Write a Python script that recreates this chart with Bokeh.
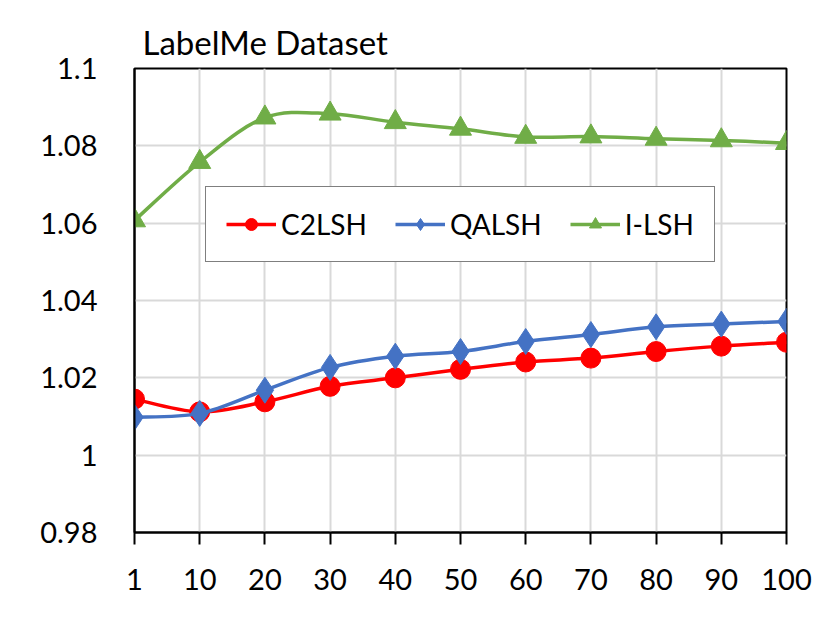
from bokeh.plotting import figure
from bokeh.models import (FixedTicker, CustomJSTickFormatter, Legend, LegendItem,
                          ColumnDataSource, Title)
from bokeh.embed import file_html
from bokeh.resources import INLINE

categories = ["1", "10", "20", "30", "40", "50", "60", "70", "80", "90", "100"]
c2lsh = [1.0145, 1.0112, 1.0138, 1.0178, 1.0200, 1.0222, 1.0241, 1.0251, 1.0268, 1.0282, 1.0292]
qalsh = [1.0098, 1.0108, 1.0168, 1.0227, 1.0256, 1.0268, 1.0294, 1.0312, 1.0332, 1.0339, 1.0346]
ilsh = [1.0607, 1.0758, 1.0873, 1.0883, 1.0861, 1.0844, 1.0823, 1.0824, 1.0818, 1.0814, 1.0807]
y_ticks = [0.98, 1.0, 1.02, 1.04, 1.06, 1.08, 1.1]

FONT = "Lato"
xs = list(range(len(categories)))

p = figure(width=815, height=615, output_backend="svg", toolbar_location=None,
           x_range=(0, len(categories) - 1), y_range=(y_ticks[0], y_ticks[-1]),
           min_border_left=134, min_border_right=29, min_border_bottom=83, min_border_top=68)

p.title = Title(text="LabelMe Dataset", text_font=FONT, text_font_size="33px",
                text_font_style="normal", text_color="black", align="left", offset=8,
                standoff=14)

p.outline_line_color = "black"
p.outline_line_width = 2
p.background_fill_color = "white"
p.border_fill_color = "white"

p.xgrid.grid_line_color = "#d9d9d9"
p.ygrid.grid_line_color = "#d9d9d9"
p.xgrid.grid_line_width = 2
p.ygrid.grid_line_width = 2

p.xaxis.ticker = FixedTicker(ticks=xs)
p.xaxis.major_label_overrides = {i: c for i, c in enumerate(categories)}
p.xaxis.axis_line_color = "black"
p.xaxis.axis_line_width = 2
p.xaxis.major_tick_line_color = "black"
p.xaxis.major_tick_line_width = 2
p.xaxis.major_tick_out = 12
p.xaxis.major_tick_in = 0
p.xaxis.minor_tick_line_color = None
p.xaxis.major_label_text_font = FONT
p.xaxis.major_label_text_font_size = "29px"
p.xaxis.major_label_text_color = "black"
p.xaxis.major_label_standoff = 24

p.yaxis.ticker = FixedTicker(ticks=y_ticks)
p.yaxis.formatter = CustomJSTickFormatter(code="return String(Math.round(tick*100)/100);")
p.yaxis.axis_line_color = "black"
p.yaxis.axis_line_width = 2
p.yaxis.major_tick_line_color = None
p.yaxis.minor_tick_line_color = None
p.yaxis.major_label_text_font = FONT
p.yaxis.major_label_text_font_size = "29px"
p.yaxis.major_label_text_color = "black"
p.yaxis.major_label_standoff = 31


def smooth_source(x, y):
    # Bezier segments through the data points (Catmull-Rom style, like Excel smoothing)
    n = len(x)
    d = dict(x0=[], y0=[], x1=[], y1=[], cx0=[], cy0=[], cx1=[], cy1=[])
    for i in range(n - 1):
        a = max(i - 1, 0)
        b = min(i + 2, n - 1)
        d["x0"].append(x[i]); d["y0"].append(y[i])
        d["x1"].append(x[i + 1]); d["y1"].append(y[i + 1])
        d["cx0"].append(x[i] + (x[i + 1] - x[a]) / 6)
        d["cy0"].append(y[i] + (y[i + 1] - y[a]) / 6)
        d["cx1"].append(x[i + 1] - (x[b] - x[i]) / 6)
        d["cy1"].append(y[i + 1] - (y[b] - y[i]) / 6)
    return ColumnDataSource(d)


series = [
    ("C2LSH", c2lsh, "#FF0000", "circle", 20),
    ("QALSH", qalsh, "#4472C4", "diamond", 26),
    ("I-LSH", ilsh, "#70AD47", "triangle", 22),
]

items = []
for name, vals, color, marker, size in series:
    src = smooth_source(xs, vals)
    br = p.bezier(x0="x0", y0="y0", x1="x1", y1="y1", cx0="cx0", cy0="cy0",
                  cx1="cx1", cy1="cy1", source=src, line_color=color, line_width=3.5)
    sr = p.scatter(xs, vals, marker=marker, size=size, fill_color=color,
                   line_color=color, line_width=1)
    items.append(LegendItem(label=name, renderers=[br, sr]))

legend = Legend(items=items, orientation="horizontal", location=(71, 270),
                border_line_color="black", border_line_width=1.5,
                background_fill_color="white", background_fill_alpha=1,
                label_text_font=FONT, label_text_font_size="28px", label_text_color="black",
                glyph_width=50, glyph_height=30, label_standoff=5, spacing=28,
                padding=20, margin=0)
p.add_layout(legend, "center")

open("out.html", "w").write(file_html(p, INLINE))
